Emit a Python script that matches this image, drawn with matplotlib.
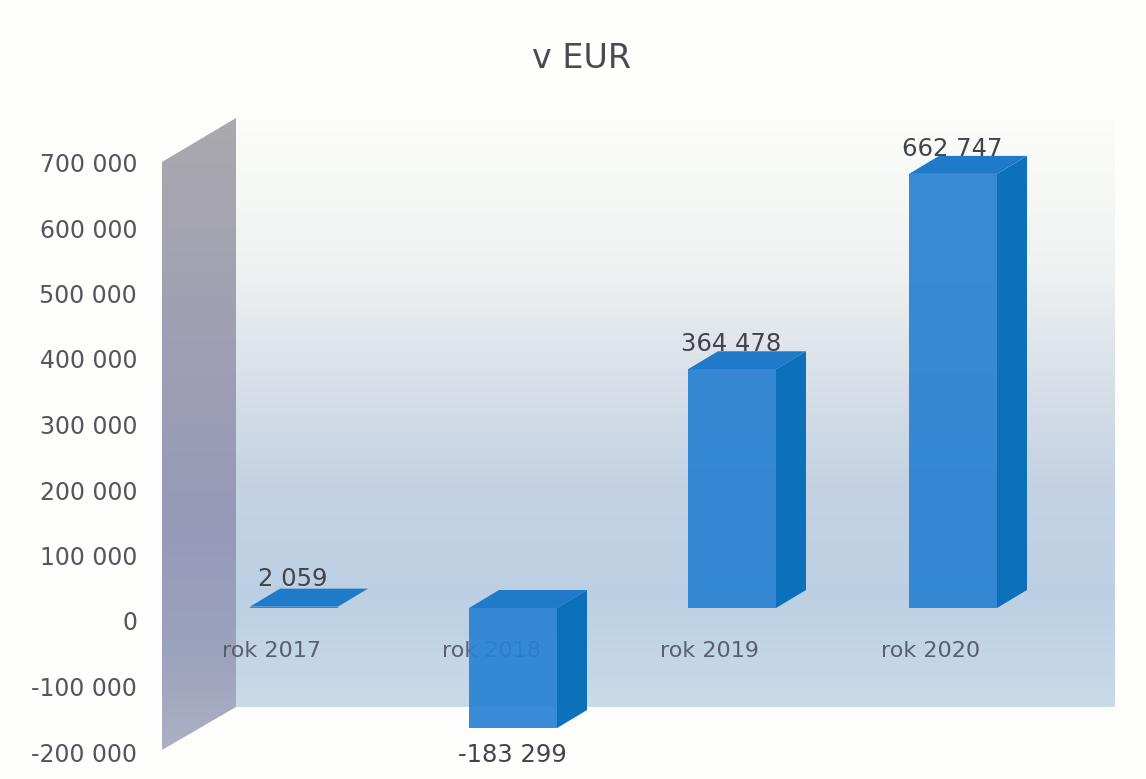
#!/usr/bin/env python3
"""v EUR: faux-3D column chart, drawn in a 2D axes (x in pixels, y in EUR)."""
import numpy as np
import matplotlib
matplotlib.use("Agg")
import matplotlib.pyplot as plt
from matplotlib.colors import LinearSegmentedColormap
from matplotlib.patches import Polygon

categories = ["rok 2017", "rok 2018", "rok 2019", "rok 2020"]
values = [2059, -183299, 364478, 662747]
value_labels = ["2 059", "-183 299", "364 478", "662 747"]
ticks = [-200000, -100000, 0, 100000, 200000, 300000, 400000, 500000, 600000, 700000]
tick_labels = ["-200 000", "-100 000", "0", "100 000", "200 000", "300 000", "400 000",
               "500 000", "600 000", "700 000"]

W, H = 1146, 779
bar_left = [250, 469, 688, 909]
BAR_W = 88; DX, DY = 30, 18       # column width and depth, px
ZERO_PX = 608; PX_PER_EUR = 65.5 / 100000
TICK_ZERO_PX = 621                # axis labels sit on the front plane, lower than the columns

plt.rcParams["font.family"] = ["DejaVu Sans"]
fig = plt.figure(figsize=(W / 100, H / 100), dpi=100, facecolor="#fefefd")
ax = fig.add_axes([0, 0, 1, 1]); ax.axis("off")
dy_eur = DY / PX_PER_EUR

def ypx(p): return (ZERO_PX - p) / PX_PER_EUR

# walls ---------------------------------------------------------------------------------
back_cm = LinearSegmentedColormap.from_list("back", [(0, "#fcfdfa"), (0.25, "#eff2f1"), (0.42, "#dbe2e9"),
                                                     (0.62, "#c4d2e3"), (0.82, "#bdd0e4"), (1, "#c9dbe9")])
side_cm = LinearSegmentedColormap.from_list("side", [(0, "#aaa9ad"), (0.35, "#a09fb4"), (0.65, "#959ab8"),
                                                     (0.85, "#9ca3bd"), (1, "#adafc4")])
grad = np.linspace(0, 1, 256).reshape(-1, 1)
for cm, ext, poly in [(back_cm, (236, 1115, ypx(707), ypx(118)), [(236, 118), (1115, 118), (1115, 707), (236, 707)]),
                      (side_cm, (162, 236, ypx(750), ypx(118)), [(162, 162), (236, 118), (236, 707), (162, 750)])]:
    im = ax.imshow(grad, cmap=cm, extent=ext, aspect="auto", origin="upper", zorder=1)
    pg = Polygon([(x, ypx(y)) for x, y in poly], transform=ax.transData, fc="none", ec="none")
    ax.add_patch(pg); im.set_clip_path(pg)
ax.set_xlim(0, W); ax.set_ylim(ypx(H), ypx(0))

# category labels go under the columns, 2018 shows through --------------------------------
for x, c in zip(bar_left, categories):
    ax.text(x + BAR_W / 2 - 22, ypx(651), c, ha="center", va="center", fontsize=16, color="#5a5e70", zorder=2)

# columns -------------------------------------------------------------------------------
x_mid = [x + BAR_W / 2 for x in bar_left]
ax.bar(x_mid, values, width=BAR_W, color="#2a82d2", alpha=0.93, zorder=3, linewidth=0)
for x, v in zip(bar_left, values):
    hi, lo = max(v, 0), min(v, 0)
    ax.add_patch(Polygon([(x, hi), (x + BAR_W, hi), (x + BAR_W + DX, hi + dy_eur), (x + DX, hi + dy_eur)],
                         fc="#1f7bc9", ec="none", zorder=4))
    if v > 50000 or v < -50000:
        ax.add_patch(Polygon([(x + BAR_W, lo), (x + BAR_W + DX, lo + dy_eur), (x + BAR_W + DX, hi + dy_eur), (x + BAR_W, hi)],
                             fc="#0d70bb", ec="none", zorder=4))

# value labels --------------------------------------------------------------------------
for xm, v, s in zip(x_mid, values, value_labels):
    off = -27 if v < 0 else (28 if v < 50000 else 25)
    ax.annotate(s, (xm - 1, v), xytext=(0, off * 0.72), textcoords="offset points",
                ha="center", va="center", fontsize=17.5, color="#43434b", zorder=5)

ax.text(582, ypx(58), "v EUR", ha="center", va="center", fontsize=24, color="#4a4a50")

# value axis: same scale, shifted to the front plane ------------------------------------
tax = fig.add_axes([162 / W, 0, 1 - 162 / W, 1], frameon=False)
tax.patch.set_visible(False)
tax.set_xticks([])
tax.set_ylim((TICK_ZERO_PX - H) / PX_PER_EUR, TICK_ZERO_PX / PX_PER_EUR)
tax.set_yticks(ticks, tick_labels)
tax.tick_params(axis="y", length=0, pad=18, labelsize=17, labelcolor="#55555c")

fig.savefig("out.png", dpi=100)
